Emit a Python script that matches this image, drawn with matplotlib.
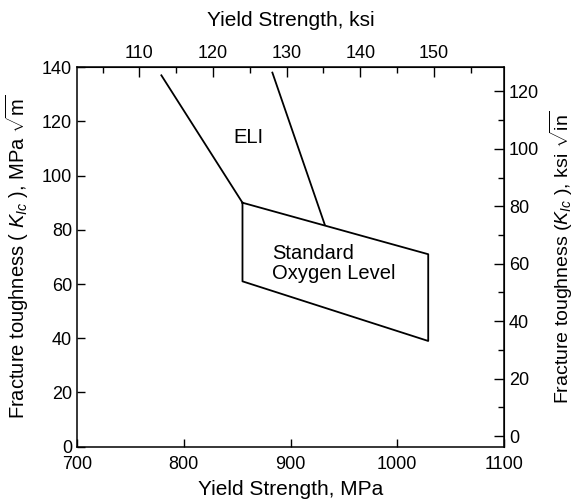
# import modules
import matplotlib
matplotlib.use('Agg')
import matplotlib.pyplot as plt

# ELI boundary lines (MPa, MPa*sqrt(m))
eli_left_x = [779, 855]
eli_left_y = [137, 90]
eli_right_x = [883, 932]
eli_right_y = [138, 82]

# standard oxygen level region outline
std_x = [855, 1029, 1029, 855, 855]
std_y = [90, 71, 39, 61, 90]

bottom_ticks = [700, 800, 900, 1000, 1100]
left_ticks = [0, 20, 40, 60, 80, 100, 120, 140]
top_ticks = [110, 120, 130, 140, 150]
right_ticks = [0, 20, 40, 60, 80, 100, 120]


def mpa_to_ksi(x):
    return x / 6.895


def ksi_to_mpa(x):
    return x * 6.895


# right scale as drawn in the original figure
def left_to_right(y):
    return 0.944 * y - 3.7


def right_to_left(y):
    return (y + 3.7) / 0.944


def main():
    plt.rcParams['font.family'] = ['Liberation Sans', 'DejaVu Sans']
    plt.rcParams['mathtext.fontset'] = 'custom'
    plt.rcParams['mathtext.rm'] = 'Liberation Sans'
    plt.rcParams['mathtext.it'] = 'Liberation Sans:italic'

    fig = plt.figure(figsize=(5.77, 5.04), dpi=100)
    ax = fig.add_axes([0.1335, 0.1137, 0.74, 0.753])

    # plot the boundaries
    ax.plot(eli_left_x, eli_left_y, color='k', lw=1.3)
    ax.plot(eli_right_x, eli_right_y, color='k', lw=1.3)
    ax.plot(std_x, std_y, color='k', lw=1.3)

    # region labels
    ax.text(861, 114, 'ELI', fontsize=14.5, ha='center', va='center')
    ax.text(883, 67.5, 'Standard\nOxygen Level', fontsize=14.5,
            ha='left', va='center', linespacing=1.1)

    ax.set_xlim(700, 1100)
    ax.set_ylim(0, 140)
    ax.set_xticks(bottom_ticks)
    ax.set_yticks(left_ticks)
    ax.tick_params(direction='in', length=6, width=1, labelsize=13,
                   top=False, right=False)
    ax.tick_params(axis='x', pad=7)
    for s in ax.spines.values():
        s.set_linewidth(1.1)

    ax.set_xlabel('Yield Strength, MPa', fontsize=15, labelpad=5)
    ax.set_ylabel(r'Fracture toughness ( $K_{Ic}$ ), MPa $\sqrt{\mathrm{m}}$',
                  fontsize=14.5, labelpad=8)

    # top axis in ksi
    top = ax.secondary_xaxis('top', functions=(mpa_to_ksi, ksi_to_mpa))
    top.set_xticks(top_ticks)
    top.set_xticks([105, 115, 125, 135, 145, 155], minor=True)
    top.tick_params(which='major', direction='in', length=7, width=1,
                    labelsize=13)
    top.tick_params(which='minor', direction='in', length=4, width=1)
    top.set_xlabel('Yield Strength, ksi', fontsize=15, labelpad=14)

    # right axis in ksi*sqrt(in)
    right = ax.secondary_yaxis('right', functions=(left_to_right, right_to_left))
    right.set_yticks(right_ticks)
    right.set_yticks([10, 30, 50, 70, 90, 110], minor=True)
    right.tick_params(which='major', direction='in', length=7, width=1,
                      labelsize=13)
    right.tick_params(which='minor', direction='in', length=4, width=1)
    right.set_ylabel(r'Fracture toughness ($K_{Ic}$ ), ksi $\sqrt{\mathrm{in}}$',
                     fontsize=14, labelpad=6)

    fig.savefig('out.png', dpi=100)


if __name__ == '__main__':
    main()
